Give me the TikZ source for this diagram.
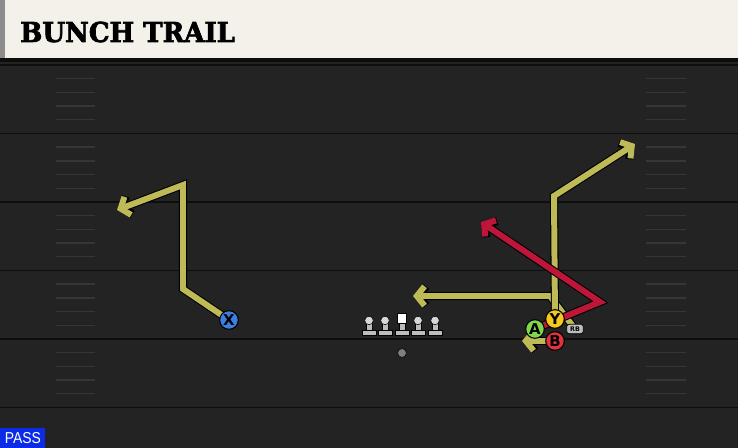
\documentclass[tikz,border=0pt]{standalone}
\usepackage{fontspec}
\newfontfamily\titlefont[BoldFeatures={FakeBold=2.6}]{DejaVu Serif}
\newfontfamily\playerfont{DejaVu Sans}
\newfontfamily\tagfont{Liberation Sans}
\usetikzlibrary{arrows.meta}

\definecolor{fieldbg}{HTML}{232323}
\definecolor{fieldline}{HTML}{363636}
\definecolor{titlebg}{HTML}{F4F1EA}
\definecolor{routeyel}{HTML}{BDBA57}
\definecolor{routered}{HTML}{BE1639}
\definecolor{plblue}{HTML}{3B7FE3}
\definecolor{plyellow}{HTML}{F6C81E}
\definecolor{plgreen}{HTML}{7ED84B}
\definecolor{plred}{HTML}{E0323F}
\definecolor{linegrey}{HTML}{BDBDBD}
\definecolor{passblue}{HTML}{0B2BE6}

\begin{document}
\begin{tikzpicture}[x=0.02cm, y=-0.02cm,
    player/.style={circle, draw=black, line width=0.6pt, minimum size=10.6pt,
      inner sep=0pt, font=\playerfont\bfseries\fontsize{8.5}{8.5}\selectfont},
    routeedge/.style={draw=black, line width=4.6pt, line join=miter},
    routefill/.style={line width=3.4pt, line join=miter},
    routetip/.style={-{Straight Barb[length=4.4pt,width=11pt]}},
    yardline/.style={draw=fieldline!120, line width=1.1pt},
    hashline/.style={draw=fieldline, line width=0.8pt},
    lineman/.style={fill=linegrey, draw=black, line width=0.3pt}]
    \useasboundingbox (0,0) rectangle (738,448);

    % Field and title bar
    \fill[fieldbg] (0,0) rectangle (738,448);
    \fill[titlebg] (0,0) rectangle (738,58);
    \fill[black!45] (0,0) rectangle (5,58);
    \fill[black!95] (0,58) rectangle (738,62);
    \node[anchor=base west, inner sep=0pt] (title) at (20,42)
      {\scalebox{0.95}[1]{\titlefont\bfseries\fontsize{15.6}{15.6}\selectfont BUNCH TRAIL}};

    % Yard lines and hash marks
    \foreach \yl in {65,133.5,202,270.5,339,407.5} {
      \draw[yardline] (0,\yl) -- (738,\yl);
    }
    \foreach \yl in {65,133.5,202,270.5,339} {
      \foreach \k in {1,...,4} {
        \draw[hashline] (56,\yl+\k*13.7) -- (95,\yl+\k*13.7);
        \draw[hashline] (646,\yl+\k*13.7) -- (686,\yl+\k*13.7);
      }
    }

    % Player spots
    \coordinate (pX) at (229,320);
    \coordinate (pY) at (555,319);
    \coordinate (pA) at (535,329);
    \coordinate (pB) at (555,341);
    \coordinate (pRB) at (575,329);

    % Route points
    \coordinate (wX1) at (183,289);
    \coordinate (wX2) at (183,185);
    \coordinate (eX) at (117,210);
    \coordinate (wRB) at (550,296);
    \coordinate (eRB) at (413,296);
    \coordinate (wY) at (554,196);
    \coordinate (eY) at (635,144);
    \coordinate (eB) at (522,341);
    \coordinate (wA) at (600,302);
    \coordinate (eA) at (481,222);

    % X route
    \draw[routeedge, routetip] (pX) -- (wX1) -- (wX2) -- (eX);
    \draw[routefill, routetip, routeyel] (pX) -- (wX1) -- (wX2) -- (eX);

    % RB route
    \draw[routeedge, routetip] (pRB) -- (wRB) -- (eRB);
    \draw[routefill, routetip, routeyel] (pRB) -- (wRB) -- (eRB);

    % Y route
    \draw[routeedge, routetip] (pY) -- (wY) -- (eY);
    \draw[routefill, routetip, routeyel] (pY) -- (wY) -- (eY);

    % B route
    \draw[routeedge, routetip] (pB) -- (eB);
    \draw[routefill, routetip, routeyel] (pB) -- (eB);

    % A route
    \draw[routeedge, routetip] (pA) -- (wA) -- (eA);
    \draw[routefill, routetip, routered] (pA) -- (wA) -- (eA);

    % Offensive line
    \foreach \lx in {369,385,418,435} {
      \fill[lineman] (\lx-7,330) rectangle (\lx+7,335.5);
      \fill[lineman] (\lx-3,321) rectangle (\lx+3,330);
      \fill[lineman, fill=linegrey!60!white] (\lx,320.5) circle (4.3);
    }
    \fill[lineman] (395,330) rectangle (409,335.5);
    \fill[lineman] (399,321) rectangle (405,330);
    \fill[white, draw=black, line width=0.3pt] (397,313.5) rectangle (406.5,323);

    % Quarterback
    \fill[black!50, draw=black, line width=0.3pt] (402,353) circle (4.4);

    % Players
    \node[player, fill=plblue] (X) at (pX) {X};
    \node[player, fill=plgreen] (A) at (pA) {A};
    \node[player, fill=plred] (B) at (pB) {B};
    \node[player, fill=plyellow] (Y) at (pY) {Y};
    \node[draw=black, fill=linegrey, rounded corners=1.5pt, line width=0.4pt,
      minimum width=9.5pt, minimum height=5.4pt, inner sep=0pt,
      font=\playerfont\bfseries\fontsize{3.6}{3.6}\selectfont] (RB) at (pRB) {RB};

    % Play type tag
    \node[fill=passblue, anchor=south west, inner sep=0pt, minimum width=25.6pt,
      minimum height=11.4pt, text=white,
      font=\tagfont\fontsize{9}{9}\selectfont] (tag) at (0,448) {\scalebox{0.88}[1]{PASS}};
\end{tikzpicture}
\end{document}
